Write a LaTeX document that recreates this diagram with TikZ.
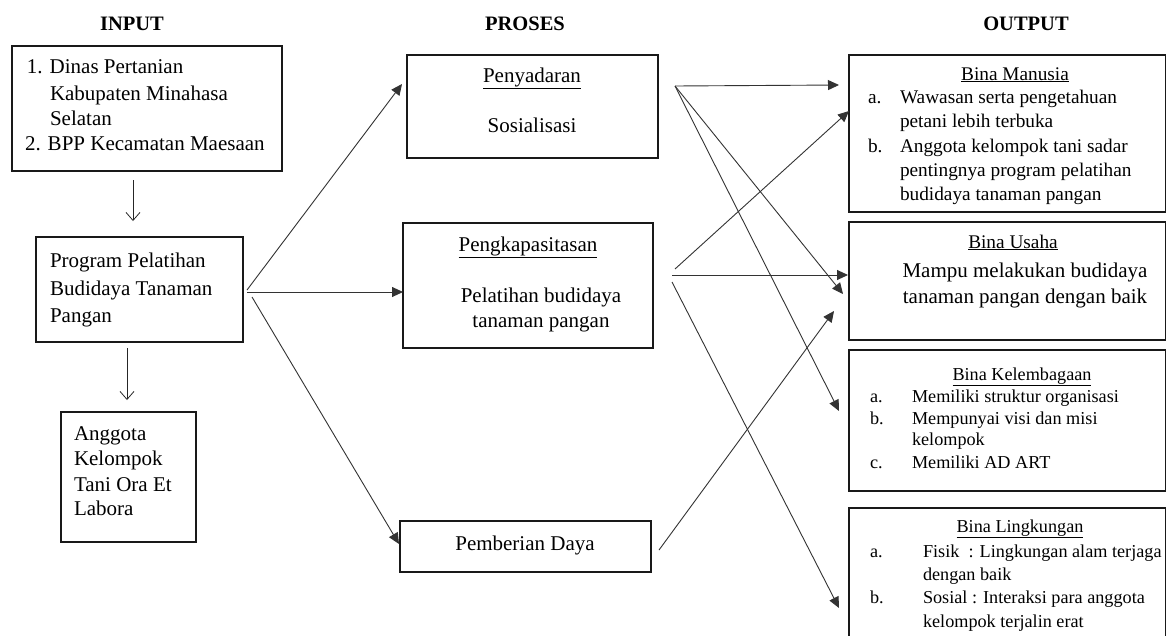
\documentclass[tikz,border=0pt]{standalone}
\usepackage{fontspec}
\setmainfont{Liberation Serif}
\usetikzlibrary{arrows.meta}
\begin{document}
\begin{tikzpicture}[x=1pt,y=-1pt,
  box/.style={draw=black!90, line width=1.2pt, rectangle, inner sep=0pt, outer sep=0pt, anchor=north west},
  t/.style={inner sep=0pt, outer sep=0pt, anchor=base west, font=\fontsize{21}{25}\selectfont},
  tc/.style={t, anchor=base},
  hd/.style={tc, font=\fontsize{20.5}{25}\selectfont\bfseries},
  tm/.style={t, font=\fontsize{19.3}{23}\selectfont},
  tmc/.style={tm, anchor=base},
  tk/.style={t, font=\fontsize{18.2}{22}\selectfont},
  tkc/.style={tk, anchor=base},
  arr/.style={draw=black!80, line width=0.9pt, -{Triangle[length=11pt,width=10pt]}},
  darr/.style={draw=black!85, line width=0.8pt, -{Straight Barb[length=8pt,width=14pt]}}
]
\useasboundingbox (0,0) rectangle (1167,635);
\fill[white] (0,0) rectangle (1167,635);

% headers
\node[hd] (hin) at (132,30) {INPUT};
\node[hd] (hpr) at (525,30) {PROSES};
\node[hd] (hout) at (1026,30) {OUTPUT};

% boxes
\node[box, minimum width=270pt, minimum height=125pt] (dinas) at (12,46) {};
\node[box, minimum width=207pt, minimum height=105pt] (prog) at (36,237) {};
\node[box, minimum width=135pt, minimum height=130pt] (anggota) at (61,412) {};
\node[box, minimum width=251pt, minimum height=103pt] (peny) at (407,55) {};
\node[box, minimum width=250pt, minimum height=125pt] (pengk) at (403,223) {};
\node[box, minimum width=251pt, minimum height=51pt] (pemb) at (400,521) {};
\node[box, minimum width=316.5pt, minimum height=157pt] (manusia) at (849,55) {};
\node[box, minimum width=316.5pt, minimum height=118pt] (usaha) at (849,222) {};
\node[box, minimum width=316.5pt, minimum height=141pt] (kelem) at (849,350) {};
\node[box, minimum width=316.5pt, minimum height=140pt] (lingk) at (849,508) {};

% input texts
\node[t] (d1) at (27,73) {1. Dinas Pertanian};
\node[t] (d2) at (50,100) {Kabupaten Minahasa};
\node[t] (d3) at (50,125) {Selatan};
\node[t] (d4) at (25,150) {2. BPP Kecamatan Maesaan};
\node[t] (p1) at (50,267) {Program Pelatihan};
\node[t] (p2) at (50,295) {Budidaya Tanaman};
\node[t] (p3) at (50,322) {Pangan};
\node[t] (a1) at (74,440) {Anggota};
\node[t] (a2) at (74,465) {Kelompok};
\node[t] (a3) at (74,491) {Tani Ora Et};
\node[t] (a4) at (74,515) {Labora};

% process texts
\node[tc] (s1) at (532,82) {\underline{Penyadaran}};
\node[tc] (s2) at (532,132) {Sosialisasi};
\node[tc] (k1) at (528,251) {\underline{Pengkapasitasan}};
\node[tc] (k2) at (541,302) {Pelatihan budidaya};
\node[tc] (k3) at (541,327) {tanaman pangan};
\node[tc] (e1) at (525,550) {Pemberian Daya};

% output texts
\node[tmc] (m0) at (1015,80) {\underline{Bina Manusia}};
\node[tm] (ma) at (868,103) {a.};
\node[tm] (m1) at (900,103) {Wawasan serta pengetahuan};
\node[tm] (m2) at (900,127) {petani lebih terbuka};
\node[tm] (mb) at (868,152) {b.};
\node[tm] (m3) at (900,152) {Anggota kelompok tani sadar};
\node[tm] (m4) at (900,176) {pentingnya program pelatihan};
\node[tm] (m5) at (900,200) {budidaya tanaman pangan};

\node[tmc] (u0) at (1013,248) {\underline{Bina Usaha}};
\node[tc] (u1) at (1025,277) {Mampu melakukan budidaya};
\node[tc] (u2) at (1025,303) {tanaman pangan dengan baik};

\node[tkc] (l0) at (1022,380) {\underline{Bina Kelembagaan}};
\node[tk] (la) at (870,402) {a.};
\node[tk] (l1) at (912,402) {Memiliki struktur organisasi};
\node[tk] (lb) at (870,424) {b.};
\node[tk] (l2) at (912,424) {Mempunyai visi dan misi};
\node[tk] (l3) at (912,445) {kelompok};
\node[tk] (lc) at (870,468) {c.};
\node[tk] (l4) at (912,468) {Memiliki AD ART};

\node[tkc] (g0) at (1020,532) {\underline{Bina Lingkungan}};
\node[tk] (ga) at (870,557) {a.};
\node[tk] (g1) at (923,557) {Fisik\ \ : Lingkungan alam terjaga};
\node[tk] (g2) at (923,580) {dengan baik};
\node[tk] (gb) at (870,603) {b.};
\node[tk] (g3) at (923,603) {Sosial : Interaksi para anggota};
\node[tk] (g4) at (923,627) {kelompok terjalin erat};

% connector end points
\coordinate (dinasS) at (133,180);
\coordinate (progN) at (133,221);
\coordinate (progS) at (127,348);
\coordinate (anggN) at (127,400);

\coordinate (pr1) at (247,290);
\coordinate (pr2) at (247,292);
\coordinate (pr3) at (252,297);
\coordinate (penyW) at (402,84);
\coordinate (pengkW) at (403,292);
\coordinate (pembW) at (399,544);

\coordinate (penyE) at (675,86);
\coordinate (pengkE1) at (675,269);
\coordinate (pengkE2) at (672,275);
\coordinate (pengkE3) at (672,282);
\coordinate (pembE) at (659,550);

\coordinate (manW1) at (839,85);
\coordinate (manW2) at (849,111);
\coordinate (usaW1) at (843,294);
\coordinate (usaW2) at (848,275);
\coordinate (usaW3) at (834,311);
\coordinate (kelW) at (839,411);
\coordinate (linW) at (839,608);

% connectors
\draw[darr] (dinasS) -- (progN);
\draw[darr] (progS) -- (anggN);

\draw[arr] (pr1) -- (penyW);
\draw[arr] (pr2) -- (pengkW);
\draw[arr] (pr3) -- (pembW);

\draw[arr] (penyE) -- (manW1);
\draw[arr] (penyE) -- (usaW1);
\draw[arr] (penyE) -- (kelW);
\draw[arr] (pengkE1) -- (manW2);
\draw[arr] (pengkE2) -- (usaW2);
\draw[arr] (pengkE3) -- (linW);
\draw[arr] (pembE) -- (usaW3);
\end{tikzpicture}
\end{document}
